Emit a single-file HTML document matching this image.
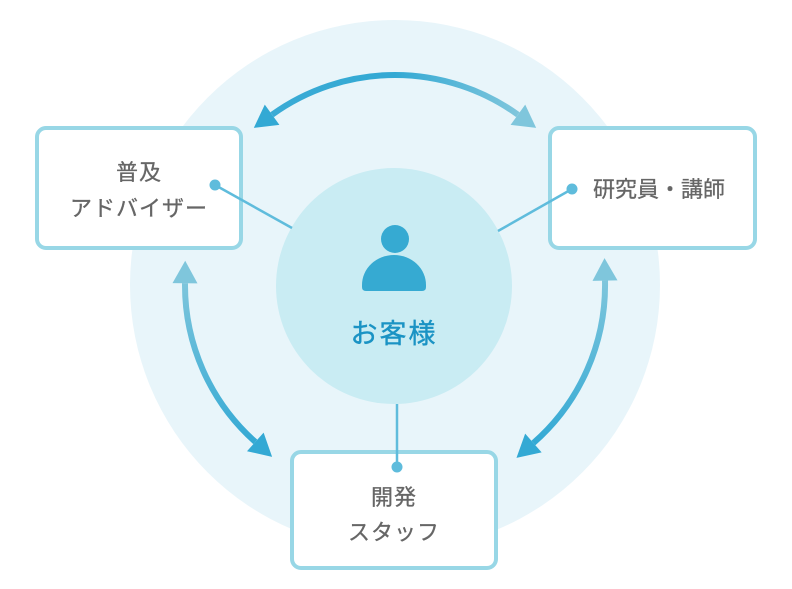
<!DOCTYPE html>
<html><head><meta charset="utf-8"><style>
html,body{margin:0;padding:0;background:#fff;}
svg{display:block;}
text{font-family:"Liberation Sans","Noto Sans CJK JP",sans-serif;}
</style></head><body>
<svg width="792" height="589" viewBox="0 0 792 589" xmlns="http://www.w3.org/2000/svg">
<defs>
<linearGradient id="gt" gradientUnits="userSpaceOnUse" x1="272" y1="0" x2="518" y2="0"><stop offset="0" stop-color="#3aabd5"/><stop offset="0.5" stop-color="#33a9d4"/><stop offset="1" stop-color="#7fc6dc"/></linearGradient>
<linearGradient id="gv" gradientUnits="userSpaceOnUse" x1="0" y1="280" x2="0" y2="445"><stop offset="0" stop-color="#7fc6dc"/><stop offset="1" stop-color="#33a9d4"/></linearGradient>
<marker id="mL" markerUnits="userSpaceOnUse" markerWidth="30" markerHeight="30" refX="0" refY="0" viewBox="0 -12 22 24" orient="auto-start-reverse"><path d="M0,-10 L18,0 L0,10 z" fill="#7fc6dc"/></marker>
<marker id="mD" markerUnits="userSpaceOnUse" markerWidth="30" markerHeight="30" refX="0" refY="0" viewBox="0 -12 22 24" orient="auto-start-reverse"><path d="M0,-10 L18,0 L0,10 z" fill="#33a9d4"/></marker>
</defs>
<circle cx="395" cy="285" r="265" fill="#e8f5fa"/>
<circle cx="394" cy="286" r="118" fill="#c9ecf3"/>
<path d="M272.1,114.7 A210,210 0 0 1 517.9,114.7" stroke="url(#gt)" stroke-width="6" fill="none" marker-start="url(#mD)" marker-end="url(#mL)"/>
<path d="M185,283.2 A210,210 0 0 0 255.3,441.9" stroke="url(#gv)" stroke-width="6" fill="none" marker-start="url(#mL)" marker-end="url(#mD)"/>
<path d="M605,280.6 A210,210 0 0 1 533.4,443" stroke="url(#gv)" stroke-width="6" fill="none" marker-start="url(#mL)" marker-end="url(#mD)"/>
<g fill="#fff" stroke="#98d7e6" stroke-width="4">
<rect x="37" y="128" width="204" height="120" rx="9"/>
<rect x="550" y="128" width="205" height="120" rx="9"/>
<rect x="292" y="452" width="204" height="116" rx="9"/>
</g>
<g stroke="#5fbcdc" stroke-width="2.5" fill="none">
<line x1="215" y1="185" x2="292" y2="228"/>
<line x1="572" y1="189" x2="498" y2="231"/>
<line x1="397" y1="404" x2="397" y2="467"/>
</g>
<g fill="#5fbcdc">
<circle cx="215" cy="185" r="5.5"/>
<circle cx="572" cy="189" r="5.5"/>
<circle cx="397" cy="467" r="5.5"/>
</g>
<circle cx="395" cy="239" r="14" fill="#36aad2"/>
<path d="M362,285 A32,30 0 0 1 426,285 L426,287 Q426,291 422,291 L366,291 Q362,291 362,287 Z" fill="#36aad2"/>
<text x="394" y="343" text-anchor="middle" font-size="27" fill="#1a93c4" letter-spacing="2" stroke="#1a93c4" stroke-width="0.4">お客様</text>
<g fill="#666" font-size="22" text-anchor="middle" stroke="#666" stroke-width="0.3">
<text x="139" y="180" letter-spacing="1">普及</text>
<text x="139" y="216" letter-spacing="1">アドバイザー</text>
<text x="659" y="197">研究員・講師</text>
<text x="394" y="505" letter-spacing="1">開発</text>
<text x="394" y="540" letter-spacing="1">スタッフ</text>
</g>
</svg>
</body></html>
